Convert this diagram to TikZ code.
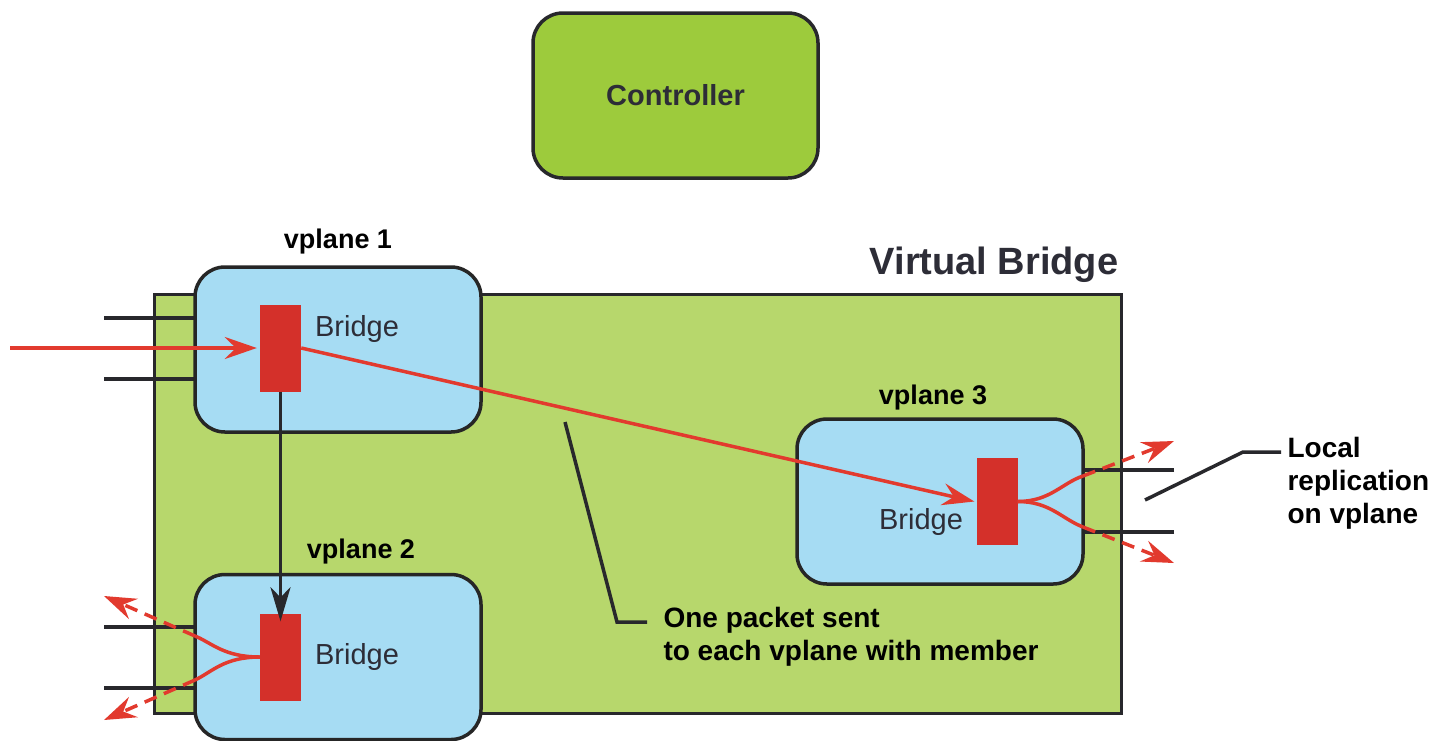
\documentclass[tikz,border=0pt]{standalone}
\usepackage{fontspec}
\setmainfont{Liberation Sans}
\usetikzlibrary{arrows.meta}
\definecolor{ctrlgreen}{RGB}{157,203,60}
\definecolor{vbgreen}{RGB}{183,215,108}
\definecolor{vpblue}{RGB}{166,220,243}
\definecolor{brred}{RGB}{212,48,42}
\definecolor{flowred}{RGB}{226,58,46}
\definecolor{edge}{RGB}{40,40,44}
\definecolor{txtgray}{RGB}{45,45,55}
\tikzset{
  ctrlbox/.style={draw=edge, line width=3.5pt, fill=ctrlgreen, rounded corners=30pt,
    minimum width=285pt, minimum height=165pt, text=txtgray,
    font=\bfseries\fontsize{29}{34}\selectfont},
  vbbox/.style={draw=edge, line width=3pt, fill=vbgreen, anchor=north west,
    minimum width=967pt, minimum height=419pt, inner sep=0pt},
  vpbox/.style={draw=black!85, line width=3.5pt, fill=vpblue, rounded corners=30pt,
    minimum width=286pt, minimum height=165pt, inner sep=0pt},
  brbox/.style={fill=brred, minimum width=41pt, minimum height=87pt, inner sep=0pt},
  brlabel/.style={text=txtgray, font=\fontsize{29}{34}\selectfont},
  vplabel/.style={text=black, font=\bfseries\fontsize{27}{32}\selectfont},
  note/.style={text=black, align=left, font=\bfseries\fontsize{28}{33}\selectfont},
  port/.style={draw=edge, line width=3.5pt},
  leader/.style={draw=edge, line width=3.5pt},
  flow/.style={draw=flowred, line width=3.5pt},
  flowtip/.style={-{Stealth[length=32pt,width=22pt,inset=11pt]}},
  outflow/.style={flow, dash pattern=on 13pt off 8pt, flowtip},
  ctltip/.style={-{Stealth[length=34pt,width=20pt,inset=10pt]}},
}
\begin{document}
\begin{tikzpicture}[x=1pt,y=-1pt]
\useasboundingbox[fill=white] (0,0) rectangle (1447,740);

% controller
\node[ctrlbox] (ctrl) at (675.5,95.5) {Controller};

% virtual bridge area
\node[vbbox] (vb) at (153,293) {};
\node[text=txtgray, font=\bfseries\fontsize{38}{44}\selectfont] (vblabel) at (994,265) {Virtual Bridge};

% port stubs
\coordinate (p1a) at (104,318);
\coordinate (p1b) at (104,379);
\coordinate (p2a) at (104,627);
\coordinate (p2b) at (104,688);
\coordinate (p3a) at (1174,470);
\coordinate (p3b) at (1174,532);
\draw[port] (p1a) -- (195,318);
\draw[port] (p1b) -- (195,379);
\draw[port] (p2a) -- (195,627);
\draw[port] (p2b) -- (195,688);
\draw[port] (p3a) -- (1083,470);
\draw[port] (p3b) -- (1083,532);

% vplanes
\node[vpbox] (vp1) at (338,349.5) {};
\node[vpbox] (vp2) at (338,657) {};
\node[vpbox] (vp3) at (940,501.5) {};
\node[vplabel] (vp1l) at (338,242) {vplane 1};
\node[vplabel] (vp2l) at (361,552) {vplane 2};
\node[vplabel] (vp3l) at (933,398) {vplane 3};

% bridges
\node[brbox] (b1) at (280.5,348) {};
\node[brbox] (b2) at (280.5,657) {};
\node[brbox] (b3) at (997,501.5) {};
\node[brlabel] (b1l) at (357,329) {Bridge};
\node[brlabel] (b2l) at (357,657) {Bridge};
\node[brlabel] (b3l) at (921,522) {Bridge};

% incoming packet and forwarding
\coordinate (src) at (10,348);
\draw[flow, flowtip] (src) -- ([xshift=-3pt]b1.west);
\draw[flow, flowtip] (b1.east) -- ([xshift=-2pt]b3.west);
\draw[draw=edge, line width=3.5pt, ctltip] (b1.south) -- ([yshift=-8pt]b2.north);

% replication on vplane 2
\coordinate (o2a) at (195,636);
\coordinate (o2b) at (195,680);
\coordinate (t2a) at (104,596);
\coordinate (t2b) at (104,720);
\draw[flow] (b2.west) .. controls (224,657) and (212,643) .. (o2a);
\draw[flow] (b2.west) .. controls (224,657) and (212,672) .. (o2b);
\draw[outflow] (o2a) -- (t2a);
\draw[outflow] (o2b) -- (t2b);

% replication on vplane 3
\coordinate (o3a) at (1083,476);
\coordinate (o3b) at (1083,527);
\coordinate (t3a) at (1174,441);
\coordinate (t3b) at (1174,563);
\draw[flow] (b3.east) .. controls (1050,501.5) and (1062,483) .. (o3a);
\draw[flow] (b3.east) .. controls (1050,501.5) and (1062,519) .. (o3b);
\draw[outflow] (o3a) -- (t3a);
\draw[outflow] (o3b) -- (t3b);

% annotations
\node[note, anchor=west] (n1) at (660,637) {One packet sent\\to each vplane with member};
\coordinate (n1a) at (565,422);
\coordinate (n1b) at (617,622);
\draw[leader] (n1a) -- (n1b) -- (647,622);

\node[note, anchor=west] (n2) at (1284,483) {Local\\replication\\on vplane};
\coordinate (n2a) at (1145,500);
\coordinate (n2b) at (1243,452);
\draw[leader] (n2a) -- (n2b) -- (1281,452);
\end{tikzpicture}
\end{document}
